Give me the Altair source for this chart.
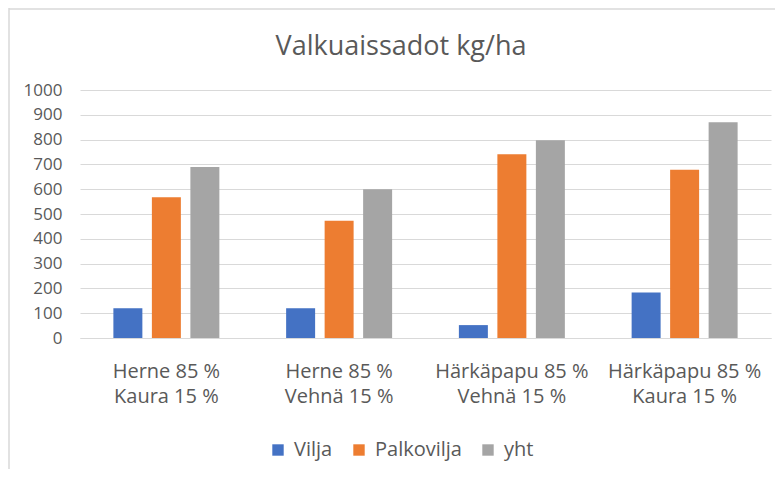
import altair as alt
import pandas as pd

categories = ["Herne 85 %|Kaura 15 %", "Herne 85 %|Vehnä 15 %",
              "Härkäpapu 85 %|Vehnä 15 %", "Härkäpapu 85 %|Kaura 15 %"]
series = ["Vilja", "Palkovilja", "yht"]
vilja = [120, 120, 52, 183]
palkovilja = [568, 473, 741, 678]
yht = [690, 600, 797, 870]
colors = ["#4472C4", "#ED7D31", "#A5A5A5"]
y_ticks = list(range(0, 1001, 100))
title_text = ["Valkuaissadot kg/ha"]

rows = []
for name, vals in zip(series, [vilja, palkovilja, yht]):
    for c, v in zip(categories, vals):
        rows.append({"cat": c, "series": name, "value": v})
df = pd.DataFrame(rows)
tdf = pd.DataFrame({"t": title_text})

FONT = "Open Sans"
TXT = "#595959"
GRID = "#D9D9D9"

bars = alt.Chart(df).mark_bar().encode(
    x=alt.X("cat:N", sort=categories,
            scale=alt.Scale(paddingInner=0, paddingOuter=0),
            axis=alt.Axis(title=None, labelExpr="split(datum.label, '|')",
                          labelAngle=0, labelFontSize=20, labelColor=TXT,
                          labelFont=FONT, labelLineHeight=25, labelPadding=23,
                          ticks=False, domainColor=GRID, domainWidth=1)),
    xOffset=alt.XOffset("series:N", sort=series,
                        scale=alt.Scale(paddingInner=0.247, paddingOuter=0.867)),
    y=alt.Y("value:Q", scale=alt.Scale(domain=[0, 1000]),
            axis=alt.Axis(title=None, values=y_ticks, grid=True, gridColor=GRID,
                          format="d", domain=False, ticks=False, labelPadding=18,
                          labelFontSize=17, labelColor=TXT, labelFont=FONT)),
    color=alt.Color("series:N", sort=series,
                    scale=alt.Scale(domain=series, range=colors),
                    legend=alt.Legend(title=None, orient="none", legendX=188,
                                      legendY=350, direction="horizontal",
                                      symbolType="square", symbolSize=130,
                                      symbolStrokeWidth=0,
                                      labelFontSize=20, labelColor=TXT,
                                      labelFont=FONT, labelOffset=6,
                                      columnPadding=16, padding=0)),
)

title = alt.Chart(tdf).mark_text(font=FONT, fontSize=27, color=TXT,
                                 align="center", baseline="alphabetic").encode(
    text="t:N", x=alt.value(321), y=alt.value(-35))

left_border = alt.Chart(tdf).mark_rule(color=GRID, strokeWidth=1.5).encode(
    x=alt.value(-71), y=alt.value(-82), y2=alt.value(382))
top_border = alt.Chart(tdf).mark_rule(color=GRID, strokeWidth=1.5).encode(
    x=alt.value(-71), x2=alt.value(700), y=alt.value(-81))

chart = alt.layer(bars, title, left_border, top_border).properties(
    width=691, height=248,
    autosize=alt.AutoSizeParams(type="none"),
    padding={"left": 72, "top": 82, "right": 4, "bottom": 131},
).configure_view(stroke=None)

chart.save("out.html", embed_options={"renderer": "svg", "actions": False})
